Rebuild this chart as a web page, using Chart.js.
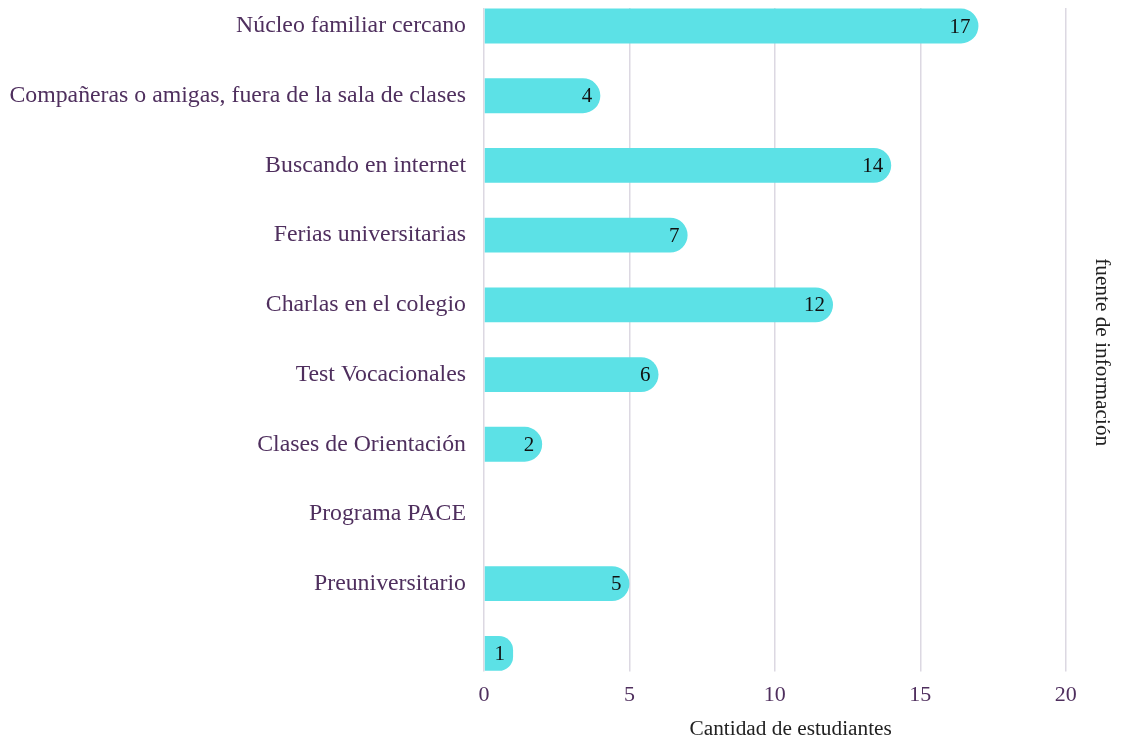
<!DOCTYPE html>
<html>
<head>
<meta charset="utf-8">
<script src="https://cdn.jsdelivr.net/npm/chart.js@4.4.1/dist/chart.umd.min.js"></script>
<style>
html,body{margin:0;padding:0;background:#fff;}
#wrap{width:1122px;height:740px;position:relative;}
</style>
</head>
<body>
<div id="wrap"><canvas id="c" width="1122" height="740"></canvas></div>
<script>
const categories = [
  "Núcleo familiar cercano",
  "Compañeras o amigas, fuera de la sala de clases",
  "Buscando en internet",
  "Ferias universitarias",
  "Charlas en el colegio",
  "Test Vocacionales",
  "Clases de Orientación",
  "Programa PACE",
  "Preuniversitario",
  ""
];
const values = [17, 4, 14, 7, 12, 6, 2, 0, 5, 1];
const xTitle = "Cantidad de estudiantes";
const yTitle = "fuente de información";
const xMin = 0, xMax = 20, xStep = 5;

const purple = "#4f2f5e";
const gridCol = "#dcd8e2";
const barCol = "#5ce1e6";
const FONT = "'Liberation Serif', 'Times New Roman', serif";
const TITLE_FONT = { family: FONT, size: 21.3, lineHeight: 1.0 };

const valueLabels = {
  id: 'valueLabels',
  afterDatasetsDraw(chart) {
    const ctx = chart.ctx;
    const meta = chart.getDatasetMeta(0);
    ctx.save();
    ctx.font = "21px " + FONT;
    ctx.fillStyle = "#111111";
    ctx.textAlign = "right";
    ctx.textBaseline = "middle";
    meta.data.forEach((el, i) => {
      const v = chart.data.datasets[0].data[i];
      if (!v) return;
      ctx.fillText(String(v), el.x - 8, el.y + 1);
    });
    ctx.restore();
  }
};

// axis titles: x title centred between plot left and the right-hand title,
// right-hand title centred on the plot plus the tick-label band
const titlesPlugin = {
  id: 'titlesPlugin',
  afterDraw(chart) {
    const xs = chart.scales.x, ys = chart.scales.y2, top = chart.scales.x2;
    const ctx = chart.ctx;
    const lh = TITLE_FONT.size * TITLE_FONT.lineHeight;
    const rightTitleX = ys.right - ys.options.title.padding.top - lh / 2;
    const cx = (xs.left + rightTitleX) / 2 - 2;
    const cy = xs.bottom - (xs.options.title.padding.bottom || 0) - lh / 2;
    ctx.save();
    ctx.font = TITLE_FONT.size + "px " + FONT;
    ctx.fillStyle = "#222";
    ctx.textAlign = "center";
    ctx.textBaseline = "middle";
    ctx.fillText(xTitle, cx, cy);
    // right title, rotated clockwise
    const labelsBottom = xs.top + xs.options.grid.tickLength + xs.options.ticks.padding + 22;
    const ry = (top.top + labelsBottom) / 2 - 4;
    ctx.translate(rightTitleX, ry);
    ctx.rotate(Math.PI / 2);
    ctx.fillText(yTitle, 0, 0);
    ctx.restore();
  }
};

new Chart(document.getElementById('c'), {
  type: 'bar',
  data: {
    labels: categories,
    datasets: [{
      data: values,
      backgroundColor: barCol,
      borderWidth: 0,
      borderRadius: 100,
      borderSkipped: 'start',
      barPercentage: 0.5,
      categoryPercentage: 1.0,
      clip: false
    }]
  },
  options: {
    indexAxis: 'y',
    responsive: false,
    animation: false,
    devicePixelRatio: 1,
    layout: { padding: { left: 0, right: 0, top: 8, bottom: 0 } },
    plugins: { legend: { display: false }, tooltip: { enabled: false } },
    scales: {
      x: {
        type: 'linear',
        position: 'bottom',
        min: xMin, max: xMax,
        ticks: { stepSize: xStep, color: purple, font: { family: FONT, size: 22, lineHeight: 1.15 }, padding: 11 },
        grid: { color: gridCol, lineWidth: 1.5, tickLength: 18, tickColor: gridCol },
        border: { display: false },
        title: { display: true, text: xTitle, color: 'rgba(0,0,0,0)', font: TITLE_FONT, padding: { top: 0, bottom: 0 } }
      },
      x2: {
        type: 'linear',
        position: 'top',
        min: xMin, max: xMax,
        ticks: { display: false, stepSize: xStep },
        grid: { color: gridCol, lineWidth: 1.5, tickLength: 18, drawOnChartArea: false, tickColor: gridCol },
        border: { display: false }
      },
      y: {
        type: 'category',
        offset: false,
        ticks: { color: purple, font: { family: FONT, size: 23.8, lineHeight: 0.6 }, padding: 18 },
        grid: { display: false, drawTicks: false },
        border: { display: false },
        afterFit(scale) { scale.width = 484; }
      },
      y2: {
        type: 'linear',
        position: 'right',
        ticks: { display: false },
        grid: { display: false, drawTicks: false },
        border: { display: false },
        title: { display: true, text: yTitle, color: 'rgba(0,0,0,0)', font: TITLE_FONT, padding: { top: 10, bottom: 25 } }
      }
    }
  },
  plugins: [valueLabels, titlesPlugin]
});
</script>
</body>
</html>
